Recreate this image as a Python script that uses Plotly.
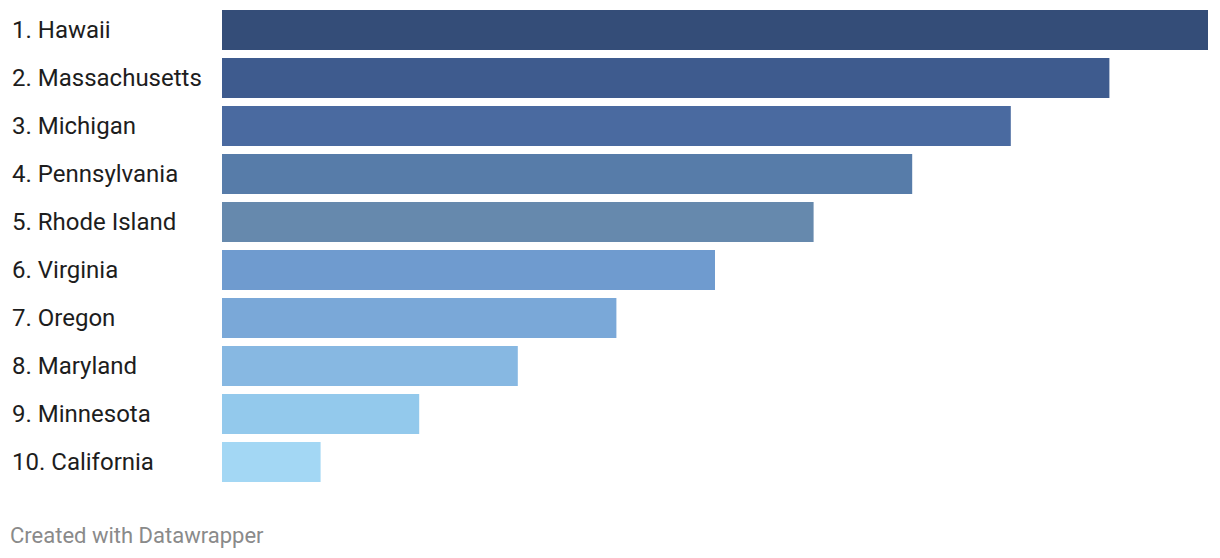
import plotly.graph_objects as go

states = ["Hawaii", "Massachusetts", "Michigan", "Pennsylvania", "Rhode Island",
          "Virginia", "Oregon", "Maryland", "Minnesota", "California"]
ranks = [1, 2, 3, 4, 5, 6, 7, 8, 9, 10]
values = [10, 9, 8, 7, 6, 5, 4, 3, 2, 1]
colors = ["#344d78", "#3e5b8e", "#4a6aa0", "#577ca9", "#6689ad",
          "#6f9bcf", "#7aa8d8", "#87b8e2", "#93c9ec", "#a3d7f4"]
labels = [f"{r}. {s}" for r, s in zip(ranks, states)]

# page body has an 8px margin, so figure is 8px smaller and offset
W, H = 1212, 550
L, R, T, B = 214, 12, 0, 70
plot_w = W - L - R
plot_h = H - T - B  # 480 -> 48px per category

fig = go.Figure()
fig.add_trace(go.Bar(
    x=values, y=labels, orientation="h",
    marker=dict(color=colors, line=dict(width=0)),
    hoverinfo="skip",
))

for lab in labels:
    fig.add_annotation(
        x=-(L - 2) / plot_w, xref="paper", y=lab, yref="y",
        text=lab, showarrow=False, xanchor="left", yanchor="middle",
        font=dict(family="Roboto", size=24, color="#1d1d1d"),
    )

fig.add_annotation(
    x=-L / plot_w, xref="paper", y=(plot_h - 527) / plot_h, yref="paper",
    text="Created with Datawrapper", showarrow=False, xanchor="left", yanchor="middle",
    font=dict(family="Roboto", size=22, color="#8a8a8a"),
)

top_val = -22 / 48
fig.update_layout(
    width=W, height=H,
    margin=dict(l=L, r=R, t=T, b=B),
    paper_bgcolor="white", plot_bgcolor="white",
    bargap=8 / 48,
    showlegend=False,
    xaxis=dict(range=[0, 10], visible=False, fixedrange=True),
    yaxis=dict(range=[top_val + plot_h / 48, top_val], showticklabels=False, showgrid=False,
               zeroline=False, showline=False, ticks="", fixedrange=True),
)

fig.write_html("out.html", config={"displayModeBar": False})
